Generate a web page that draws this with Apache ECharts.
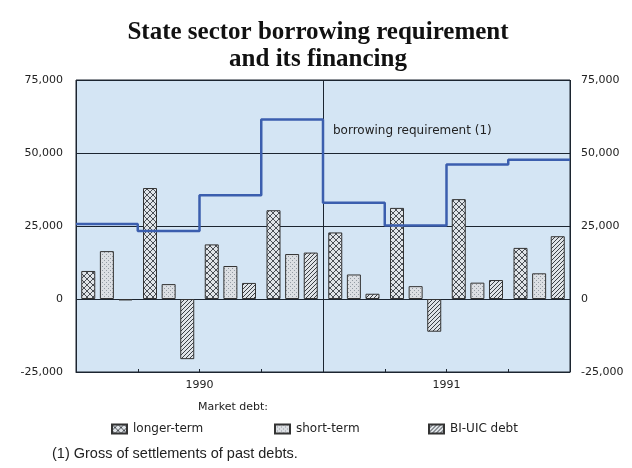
<!DOCTYPE html>
<html><head><meta charset="utf-8">
<script src="https://cdn.jsdelivr.net/npm/echarts@6/dist/echarts.min.js"></script>
<style>html,body{margin:0;padding:0;background:#fff}#c{width:632px;height:468px}</style>
</head><body><div id="c"></div>
<script>
const quarters = ['1990 Q1','1990 Q2','1990 Q3','1990 Q4','1991 Q1','1991 Q2','1991 Q3','1991 Q4'];
const years = ['1990','1991'];
const yTicks = [-25000, 0, 25000, 50000, 75000];
const longerTerm = [9600, 38000, 18700, 30400, 22800, 31200, 34200, 17500];
const shortTerm = [16400, 5100, 11300, 15400, 8400, 4400, 5600, 8800];
const biUicDebt = [-500, -20600, 5500, 15900, 1800, -11200, 6500, 21500];
const borrowingReq = [25700, 23300, 35500, 61500, 33000, 25200, 46100, 47700];

function pattern(size, bg, draw) {
  const c = document.createElement('canvas');
  c.width = c.height = size;
  const g = c.getContext('2d');
  g.fillStyle = bg; g.fillRect(0, 0, size, size);
  draw(g, size);
  return { image: c, repeat: 'repeat' };
}
const patLonger = pattern(6, '#e0e4e8', (g, s) => {
  g.strokeStyle = '#4a4f55'; g.lineWidth = 1;
  g.beginPath();
  g.moveTo(0, 0); g.lineTo(s, s);
  g.moveTo(s, 0); g.lineTo(0, s);
  g.stroke();
});
const patShort = pattern(4, '#dcdfe3', (g, s) => {
  g.fillStyle = '#949ca4';
  g.fillRect(0, 0, 1, 1); g.fillRect(2, 2, 1, 1);
});
const patBI = pattern(4, '#dfe3e7', (g, s) => {
  g.strokeStyle = '#3a3f45'; g.lineWidth = 1;
  g.beginPath();
  g.moveTo(0, s); g.lineTo(s, 0);
  g.moveTo(-1, 1); g.lineTo(1, -1);
  g.moveTo(s - 1, s + 1); g.lineTo(s + 1, s - 1);
  g.stroke();
});

const dark = '#1c2530';
const txt = '#222';
const lineData = borrowingReq.map((v, i) => [i, v]).concat([[borrowingReq.length, borrowingReq[borrowingReq.length - 1]]]);
const fmt = v => v.toLocaleString('en-US');

const chart = echarts.init(document.getElementById('c'), null, { renderer: 'canvas' });
const legendBase = {
  orient: 'horizontal', top: 418, itemWidth: 15, itemHeight: 9, icon: 'rect', itemGap: 6,
  textStyle: { fontFamily: 'DejaVu Sans', fontSize: 12, color: txt, padding: [0, 0, 0, 1] }
};
chart.setOption({
  animation: false,
  backgroundColor: '#ffffff',
  title: {
    text: 'State sector borrowing requirement\nand its financing',
    left: 313, top: 14, textAlign: 'center',
    textStyle: { fontFamily: 'Liberation Serif', fontWeight: 'bold', fontSize: 25, lineHeight: 27, color: '#111' }
  },
  grid: { left: 76, right: 62, top: 80, bottom: 96, show: true, backgroundColor: '#d4e5f4', borderColor: dark, borderWidth: 1 },
  legend: [
    Object.assign({}, legendBase, { left: 106, data: ['longer-term'] }),
    Object.assign({}, legendBase, { left: 269, data: ['short-term'] }),
    Object.assign({}, legendBase, { left: 423, data: ['BI-UIC debt'] })
  ],
  xAxis: [
    { type: 'category', data: quarters, position: 'bottom',
      axisLine: { show: true, onZero: false, lineStyle: { color: dark } },
      axisTick: { show: true, inside: true, length: 3, lineStyle: { color: dark } },
      axisLabel: { show: false }, splitLine: { show: false } },
    { type: 'category', data: years, position: 'bottom',
      axisLine: { show: false }, axisTick: { show: false },
      axisLabel: { fontFamily: 'DejaVu Sans', fontSize: 11, color: txt, margin: 8 },
      splitLine: { show: true, lineStyle: { color: dark, width: 1 } } },
    { type: 'value', min: 0, max: quarters.length, show: false, position: 'top' }
  ],
  yAxis: [
    { type: 'value', min: yTicks[0], max: yTicks[yTicks.length - 1], interval: 25000, position: 'left',
      axisLine: { show: false }, axisTick: { show: false },
      axisLabel: { fontFamily: 'DejaVu Sans', fontSize: 11, color: txt, margin: 13, formatter: fmt },
      splitLine: { show: true, lineStyle: { color: dark, width: 1 } } },
    { type: 'value', min: yTicks[0], max: yTicks[yTicks.length - 1], interval: 25000, position: 'right',
      axisLine: { show: false }, axisTick: { show: false },
      axisLabel: { fontFamily: 'DejaVu Sans', fontSize: 11, color: txt, margin: 11, formatter: fmt },
      splitLine: { show: false } }
  ],
  series: [
    { name: 'longer-term', type: 'bar', xAxisIndex: 0, yAxisIndex: 0, data: longerTerm, barWidth: 14, barGap: '33%',
      itemStyle: { color: patLonger, borderColor: '#333', borderWidth: 1 } },
    { name: 'short-term', type: 'bar', xAxisIndex: 0, yAxisIndex: 0, data: shortTerm, barWidth: 14, barGap: '33%',
      itemStyle: { color: patShort, borderColor: '#333', borderWidth: 1 } },
    { name: 'BI-UIC debt', type: 'bar', xAxisIndex: 0, yAxisIndex: 0, data: biUicDebt, barWidth: 14, barGap: '33%',
      itemStyle: { color: patBI, borderColor: '#333', borderWidth: 1 } },
    { name: 'borrowing requirement (1)', type: 'line', xAxisIndex: 2, yAxisIndex: 0, data: lineData, step: 'end',
      showSymbol: false, symbol: 'none', z: 5, lineStyle: { color: '#3b5eae', width: 2.5 } }
  ],
  graphic: [
    { type: 'text', left: 333, top: 125, style: { text: 'borrowing requirement (1)', font: '12px "DejaVu Sans"', fill: txt } },
    { type: 'text', left: 198, top: 402, style: { text: 'Market debt:', font: '11px "DejaVu Sans"', fill: txt } },
    { type: 'text', left: 52, top: 446, style: { text: '(1) Gross of settlements of past debts.', font: '14.5px "Liberation Sans"', fill: '#222' } }
  ]
});
</script></body></html>
